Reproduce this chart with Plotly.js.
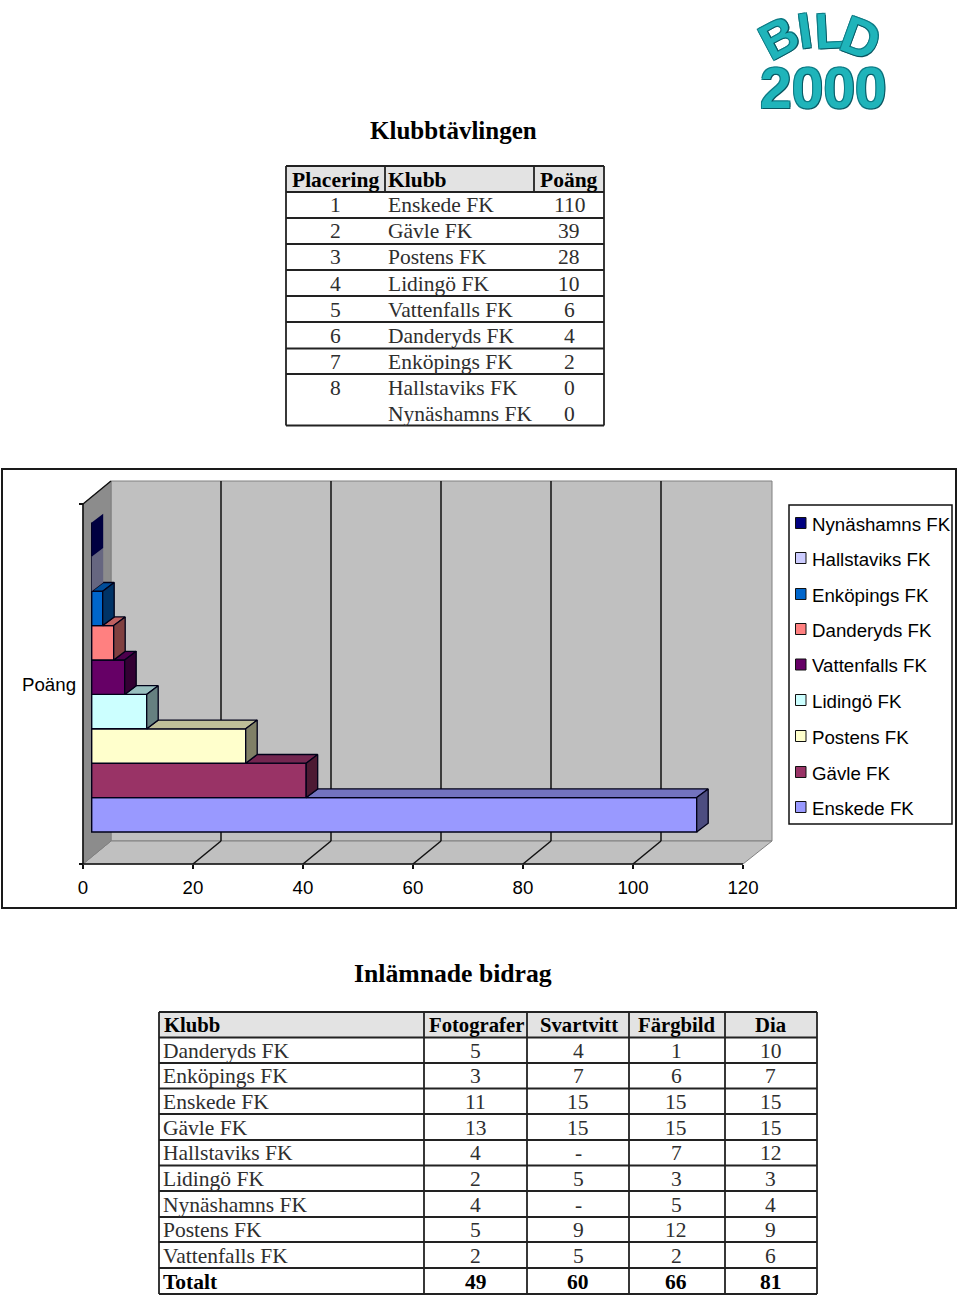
<!DOCTYPE html>
<html>
<head>
<meta charset="utf-8">
<script src="https://cdn.plot.ly/plotly-3.0.1.min.js"></script>
<style>html,body{margin:0;padding:0;background:#fff}#c{width:960px;height:1295px}</style>
</head>
<body>
<div id="c"></div>
<script>
// ---------- DATA ----------
const clubs  = ['Enskede FK','Gävle FK','Postens FK','Lidingö FK','Vattenfalls FK','Danderyds FK','Enköpings FK','Hallstaviks FK','Nynäshamns FK'];
const points = [110,39,28,10,6,4,2,0,0];
const placing = [1,2,3,4,5,6,7,8,''];
const front  = ['#9999FF','#993366','#FFFFCC','#CCFFFF','#660066','#FF8080','#0066CC','#CCCCFF','#000080'];
const topFace= ['#7373BF','#732650','#BFBF99','#99BFBF','#4D004D','#BF6060','#004D99','#9999BF','#000060'];
const sideFace=['#4D4D80','#4D1A33','#808066','#668080','#330033','#804040','#003366','#666680','#000040'];
const xTicks = [0,20,40,60,80,100,120];

const t1Header = ['Placering','Klubb','Poäng'];
const t2Header = ['Klubb','Fotografer','Svartvitt','Färgbild','Dia'];
const t2Clubs  = ['Danderyds FK','Enköpings FK','Enskede FK','Gävle FK','Hallstaviks FK','Lidingö FK','Nynäshamns FK','Postens FK','Vattenfalls FK','Totalt'];
const fotografer = [5,3,11,13,4,2,4,5,2,49];
const svartvitt  = [4,7,15,15,'-',5,'-',9,5,60];
const fargbild   = [1,6,15,15,7,3,5,12,2,66];
const dia        = [10,7,15,15,12,3,4,9,6,81];

// ---------- GEOMETRY ----------
const W=960,H=1295, PXU=5.5, PYU=34.4, X0=83, Y0=832;
const ux=p=>(p-X0)/PXU, uy=p=>(Y0-p)/PYU, fx=p=>p/W, fy=p=>1-p/H;
const BASE=8.7/PXU, DX=11.5/PXU, DY=8.7/PYU, WX=28/PXU, WY=23/PYU;
const floorY=uy(864), wallTopY=uy(504);
const SERIF='"Liberation Serif", serif', SANS='"Liberation Sans", Arial, sans-serif';

// ---------- TRACES ----------
const traces=[];
clubs.forEach((c,i)=>traces.push({type:'bar',orientation:'h',name:c,x:[points[i]],y:[i+0.5],base:[BASE],width:[1],
  marker:{color:front[i],line:{color:'#000018',width:1.4}},hoverinfo:'skip',showlegend:false}));
clubs.forEach((c,i)=>{
  const v=points[i], e=BASE+v, n=BASE+(i<clubs.length-1?points[i+1]:0), t=i+1, b=i;
  const lw=v>0?1.3:0;
  if(v>0) traces.push({type:'scatter',mode:'lines',x:[n,e,e+DX,n+DX,n],y:[t,t,t+DY,t+DY,t],fill:'toself',fillcolor:topFace[i],
    line:{color:'#000018',width:lw},hoverinfo:'skip',showlegend:false});
  traces.push({type:'scatter',mode:'lines',x:[e,e+DX,e+DX,e,e],y:[b,b+DY,t+DY,t,b],fill:'toself',fillcolor:sideFace[i],
    line:{color:'#000018',width:lw},hoverinfo:'skip',showlegend:false});
});

// ---------- SHAPES ----------
const shapes=[], ann=[];
const rect=(x0,y0,x1,y1,fill,lc,lw)=>shapes.push({type:'rect',xref:'paper',yref:'paper',layer:'below',x0:fx(x0),x1:fx(x1),y0:fy(y0),y1:fy(y1),fillcolor:fill||'rgba(0,0,0,0)',line:{color:lc||'rgba(0,0,0,0)',width:lw||0}});
const line=(x0,y0,x1,y1,lc,lw,layer)=>shapes.push({type:'line',xref:'paper',yref:'paper',layer:layer||'above',x0:fx(x0),x1:fx(x1),y0:fy(y0),y1:fy(y1),line:{color:lc,width:lw}});
const poly=(pts,fill,lc,lw)=>shapes.push({type:'path',xref:'paper',yref:'paper',layer:'below',
  path:pts.map((p,i)=>(i?'L':'M')+fx(p[0])+','+fy(p[1])).join(' ')+' Z',fillcolor:fill,line:{color:lc||'rgba(0,0,0,0)',width:lc?1:0}});
const text=(s,x,y,opt)=>ann.push(Object.assign({xref:'paper',yref:'paper',x:fx(x),y:fy(y),text:String(s),showarrow:false,xanchor:'center',yanchor:'middle',borderpad:0,
  font:{family:SERIF,size:21.5,color:'#2e2e2e'}},opt||{}));

// chart frame, walls
rect(2,469,956,908,'#fff','#1a1a1a',2);
poly([[111,481],[772,481],[772,841],[111,841]],'#C0C0C0','#808080');
poly([[83,864],[111,841],[772,841],[743,864]],'#C0C0C0','#808080');
poly([[83,504],[111,481],[111,841],[83,864]],'#8C8C8C','#808080');
// grid on back wall and floor, from the axis ticks
xTicks.slice(1,-1).forEach(v=>{
  shapes.push({type:'line',xref:'x',yref:'y',layer:'below',x0:v,y0:floorY,x1:v+WX,y1:floorY+WY,line:{color:'#111',width:1.5}});
  shapes.push({type:'line',xref:'x',yref:'y',layer:'below',x0:v+WX,y0:floorY+WY,x1:v+WX,y1:wallTopY+WY,line:{color:'#111',width:1.5}});
});
line(83,864,743,864,'#111',1.6,'below');
line(83,504,83,864,'#111',1.6,'below');
line(83,504,111,481,'#111',1.4,'below');

// legend box
rect(789,505,952,824,'#fff','#111',1.5);
const legY=[523,558,594,629,664.5,700,736,772,807];
clubs.slice().reverse().forEach((c,k)=>{
  const i=clubs.length-1-k, y=legY[k];
  rect(795.5,y-5.5,806,y+5.5,front[i],'#111',1);
  text(c,811,y+1.5,{xanchor:'left',font:{family:SANS,size:18.7,color:'#000'}});
});
text('Poäng',48.5,684.5,{font:{family:SANS,size:18.7,color:'#000'}});

// table 1
const H1={family:SERIF,size:25,color:'#000',weight:700};
text('Klubbtävlingen',453,130,{font:H1});
const t1H=[166,192,218,244,270,296,322,348.5,374,425.5], t1Y=[179.5,205,231,257.5,283.5,309.5,336.5,362,388,414];
rect(286,166,604,192,'#E3E3E3');
t1H.forEach(y=>line(286,y,604,y,'#222',1.8));
[286,604].forEach(x=>line(x,166,x,425.5,'#222',1.8));
[385,534].forEach(x=>line(x,166,x,192,'#222',1.8));
const B={family:SERIF,size:21.5,color:'#000',weight:700};
const B2={family:SERIF,size:20.7,color:'#000',weight:700};
text(t1Header[0],335.5,t1Y[0],{font:B}); text(t1Header[1],387,t1Y[0],{font:B,xanchor:'left'}); text(t1Header[2],569,t1Y[0],{font:B});
clubs.forEach((c,i)=>{
  text(placing[i],335,t1Y[i+1]); text(c,386.5,t1Y[i+1],{xanchor:'left'}); text(points[i],569,t1Y[i+1]);
});

// table 2
text('Inlämnade bidrag',453,973,{font:{family:SERIF,size:25.7,color:'#000',weight:700}});
const t2H=[1012,1037.5,1063,1088.5,1114,1140,1165.5,1191,1217,1242,1268,1294];
const t2Cx=[476,578.5,676.5,771], t2Cols=[fotografer,svartvitt,fargbild,dia];
rect(159,1012,817,1037.5,'#E3E3E3');
t2H.forEach(y=>line(159,y,817,y,'#222',1.8));
[159,424,527,629,725,817].forEach(x=>line(x,1012,x,1294,'#222',1.8));
text(t2Header[0],162.5,1025,{font:B2,xanchor:'left'});
t2Cx.forEach((x,k)=>text(t2Header[k+1],x,1025,{font:B2}));
t2Clubs.forEach((c,r)=>{
  const y=(t2H[r+1]+t2H[r+2])/2+0.5, last=r===t2Clubs.length-1, o=last?{font:B}:{};
  text(c,162,y,Object.assign({xanchor:'left'},o));
  t2Cols.forEach((col,k)=>text(col[r],t2Cx[k]-0.5,y,o));
});

// logo
const logoFont=s=>({family:SANS,size:s,color:'#1FB4BA',weight:700,shadow:'1px 1px 0 #0A5560, -1px -1px 0 #0E7C86, 1px -1px 0 #0E7C86, -1px 1px 0 #0E7C86'});
[['B',779,38,-28,50],['I',805,31,-8,50],['L',830,31,-3,50],['D',861,38,20,52]].forEach(a=>
  text(a[0],a[1],a[2],{textangle:a[3],font:logoFont(a[4])}));
text('2000',823,88,{font:logoFont(57)});

const layout={width:W,height:H,margin:{l:0,r:0,t:0,b:0,pad:0},paper_bgcolor:'#fff',plot_bgcolor:'rgba(0,0,0,0)',
  barmode:'overlay',showlegend:false,shapes:shapes,annotations:ann,
  xaxis:{type:'linear',range:[ux(0),ux(W)],domain:[0,1],anchor:'free',position:1-864/H,tickmode:'array',tickvals:xTicks,ticks:'outside',ticklen:4,tickwidth:1.5,tickcolor:'#111',ticklabelstandoff:3,
    showgrid:false,zeroline:false,showline:false,tickfont:{family:SANS,size:18.7,color:'#000'},fixedrange:true},
  yaxis:{type:'linear',range:[uy(H),uy(0)],domain:[0,1],anchor:'free',position:X0/W,tickmode:'array',tickvals:[floorY,wallTopY],ticktext:['',''],ticks:'outside',ticklen:4,tickwidth:1.5,tickcolor:'#111',
    showgrid:false,zeroline:false,showline:false,fixedrange:true}
};
Plotly.newPlot('c',traces,layout,{displayModeBar:false,staticPlot:true});
</script>
</body>
</html>
